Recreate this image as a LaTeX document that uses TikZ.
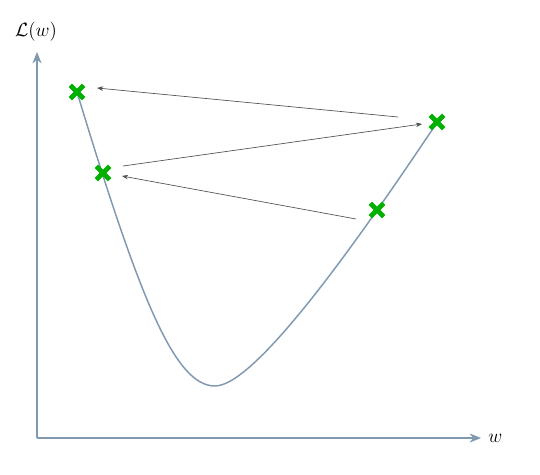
\documentclass[tikz,border=0pt]{standalone}
\usepackage{amsmath,amssymb}
\usetikzlibrary{arrows.meta,positioning,shapes.misc}
\definecolor{axisSlate}{RGB}{128,152,176}
\definecolor{stepGray}{RGB}{80,80,80}
\definecolor{ptGreen}{RGB}{0,176,0}

\begin{document}
\begin{tikzpicture}[x=0.75pt,y=-0.75pt,font=\fontsize{14}{16}\selectfont,
    ax/.style={-{Stealth[length=3mm,width=2.4mm]},axisSlate,thick},
    loss/.style={axisSlate,line width=1.1pt},
    wpt/.style={cross out,draw=ptGreen,line width=3.6pt,minimum size=6.5pt,
                inner sep=0pt},
    jump/.style={-{Stealth[length=1.6mm]},stepGray,line width=0.5pt}]
    \useasboundingbox (0,0) rectangle (540,475);
    % axes
    \coordinate (o) at (37,438);
    \coordinate (ytip) at (37,52);
    \coordinate (xtip) at (481,438);
    \draw[ax] (o) -- (ytip);
    \draw[ax] (o) -- (xtip);
    \node (ylab) at (36,32) {$\mathcal{L}(w)$};
    \node[right=2pt of xtip] (xlab) {$w$};
    % loss curve
    \coordinate (c0) at (77,92);
    \coordinate (cmin) at (215,386);
    \coordinate (c1) at (438,121);
    \draw[loss] (c0) .. controls (140,300) and (175,386) .. (cmin)
                     .. controls (255,386) and (356,244) .. (c1);
    % iterates
    \node[wpt] (w0) at (77,92) {};
    \node[wpt] (w1) at (103,173) {};
    \node[wpt] (w2) at (377,210) {};
    \node[wpt] (w3) at (437,122) {};
    % update steps
    \draw[jump] ([shift={(-39,-5)}]w3.center) -- ([shift={(20,-4)}]w0.center);
    \draw[jump] ([shift={(20,-7)}]w1.center) -- ([shift={(-15,2)}]w3.center);
    \draw[jump] ([shift={(-21,9)}]w2.center) -- ([shift={(19,3)}]w1.center);
\end{tikzpicture}
\end{document}
